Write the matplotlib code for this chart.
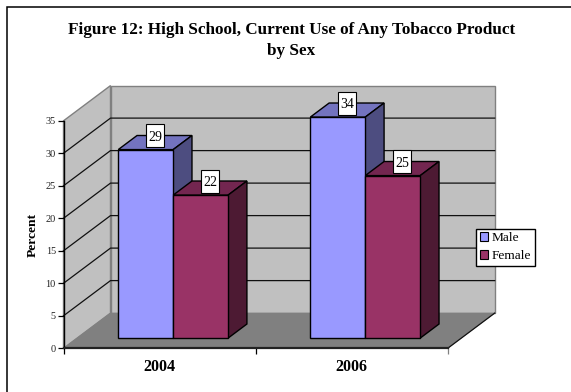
import matplotlib
matplotlib.use("Agg")
import matplotlib.pyplot as plt
from matplotlib.lines import Line2D
from matplotlib.patches import Polygon, Rectangle

plt.rcParams["font.family"] = ["Liberation Serif", "DejaVu Serif"]

# Chart values
years = ["2004", "2006"]
male = [29, 34]
female = [22, 25]
y_ticks = [0, 5, 10, 15, 20, 25, 30, 35]
series_names = ["Male", "Female"]
title = "Figure 12: High School, Current Use of Any Tobacco Product\nby Sex"
y_label = "Percent"

W, H = 571, 392
LEFT, RIGHT, BASE, TOP = 63.5, 447.7, 348.3, 120.8

# Oblique projection: depth 0 is the front of the floor, depth 1 the back wall
DEPTH_X_PX, DEPTH_Y_PX = 47.0, 35.2
cat_px = (RIGHT - LEFT) / len(years)
unit_px = (BASE - TOP) / y_ticks[-1]
DX = DEPTH_X_PX / cat_px
DY = DEPTH_Y_PX / unit_px


def proj(x, v, d):
    return (x + d * DX, v + d * DY)


fig = plt.figure(figsize=(W / 100, H / 100), dpi=100, facecolor="white")
ax = fig.add_axes([LEFT / W, 1 - BASE / H, (RIGHT - LEFT) / W, (BASE - TOP) / H])
ax.set_xlim(0, len(years))
ax.set_ylim(0, y_ticks[-1])
ax.patch.set_visible(False)


def face(points, fc, ec="black", lw=1.0, z=2):
    ax.add_patch(Polygon(points, closed=True, facecolor=fc, edgecolor=ec,
                         linewidth=lw, joinstyle="miter", clip_on=False, zorder=z))


# Walls and floor
wall, floor, edge = "#C0C0C0", "#808080", "#808080"
n, ymax = len(years), y_ticks[-1]
face([proj(0, 0, 1), proj(n, 0, 1), proj(n, ymax, 1), proj(0, ymax, 1)], wall, edge, 1.0, 1)
face([proj(0, 0, 0), proj(0, 0, 1), proj(0, ymax, 1), proj(0, ymax, 0)], wall, edge, 1.0, 1)
face([proj(0, 0, 0), proj(n, 0, 0), proj(n, 0, 1), proj(0, 0, 1)], floor, floor, 0.5, 1.1)

# Gridlines run along the side wall and across the back wall
for v in y_ticks[1:-1]:
    pts = [proj(0, v, 0), proj(0, v, 1), proj(n, v, 1)]
    ax.plot(*zip(*pts), color="#101010", lw=0.9, clip_on=False, zorder=1.5)

# Right edge of the floor
ax.plot(*zip(proj(n, 0, 0), proj(n, 0, 1)), color="#111111", lw=0.9, clip_on=False, zorder=1.6)

# Bars
BAR_W = 0.286
GAP = (1 - 2 * BAR_W) / 2
D0, D1 = 0.29, 0.69
styles = [("#9999FF", "#7373BF", "#4D4D80"), ("#993366", "#732650", "#4D1A33")]
LABEL_W, LABEL_H = 17.5 / cat_px, 23.0 / unit_px
z = 2.0
for i in range(n):
    for j, vals in enumerate((male, female)):
        front, top, side = styles[j]
        v = vals[i]
        x0 = i + GAP + j * BAR_W
        x1 = x0 + BAR_W
        z += 0.01
        face([proj(x0, v, D0), proj(x1, v, D0), proj(x1, v, D1), proj(x0, v, D1)], top, z=z)
        face([proj(x1, 0, D0), proj(x1, 0, D1), proj(x1, v, D1), proj(x1, v, D0)], side, z=z)
        face([proj(x0, 0, D0), proj(x1, 0, D0), proj(x1, v, D0), proj(x0, v, D0)], front, z=z)

# Value labels sit in white boxes over the middle of each bar top
for i in range(n):
    for j, vals in enumerate((male, female)):
        v = vals[i]
        x0 = i + GAP + j * BAR_W
        cx, cy = proj(x0 + BAR_W / 2, v, (D0 + D1) / 2)
        cy += 6.9 / unit_px
        ax.add_patch(Rectangle((cx - LABEL_W / 2, cy - LABEL_H / 2), LABEL_W, LABEL_H,
                               facecolor="white", edgecolor="black", linewidth=0.8,
                               clip_on=False, zorder=5))
        ax.text(cx, cy, str(v), ha="center", va="center_baseline", fontsize=10,
                color="black", zorder=6, clip_on=False)

# Axes lines and ticks
for s in ("top", "right"):
    ax.spines[s].set_visible(False)
ax.spines["left"].set_linewidth(1.0)
ax.spines["left"].set_zorder(4)
ax.spines["bottom"].set_linewidth(1.6)
ax.spines["bottom"].set_color("#222222")
ax.spines["bottom"].set_zorder(4)

ax.set_yticks(y_ticks)
ax.tick_params(axis="y", length=4, width=0.9, pad=1.5, labelsize=7.4, labelcolor="#222222")
ax.set_xticks(range(n + 1))
ax.set_xticklabels([""] * (n + 1))
ax.tick_params(axis="x", which="major", length=4, width=0.9, color="black")
ax.set_xticks([i + 0.5 for i in range(n)], minor=True)
ax.set_xticklabels(years, minor=True, fontweight="bold", fontsize=11.5)
ax.tick_params(axis="x", which="minor", length=0, pad=7.5)
ax.xaxis.get_major_ticks()[-1].tick1line.set_markeredgecolor("#808080")

fig.text(32.7 / W, 1 - 235 / H, y_label, rotation=90, ha="center", va="center",
         fontweight="bold", fontsize=9.7)
fig.text(291.5 / W, 1 - 40.5 / H, title, ha="center", va="center", fontweight="bold",
         fontsize=12.35, linespacing=1.38)

# Legend
handles = [Rectangle((0, 0), 1, 1, facecolor=s[0], edgecolor="black", linewidth=0.8) for s in styles]
leg = ax.legend(handles, series_names, loc="center left",
                bbox_to_anchor=(476.3 / W, 1 - 247.3 / H), bbox_transform=fig.transFigure,
                fontsize=9.6, frameon=True, fancybox=False, framealpha=1, edgecolor="black",
                handlelength=0.62, handleheight=0.62, handletextpad=0.28, labelspacing=0.45,
                borderpad=0.28, borderaxespad=0)
leg.get_frame().set_linewidth(1.0)
leg.set_zorder(7)

# Outer chart frame, open past the right and bottom of the canvas
fig.add_artist(Line2D([7 / W, 7 / W, 1], [0, 1 - 6.5 / H, 1 - 6.5 / H], color="black", lw=1.1,
                      solid_joinstyle="miter"))

fig.savefig("out.png", dpi=100)
